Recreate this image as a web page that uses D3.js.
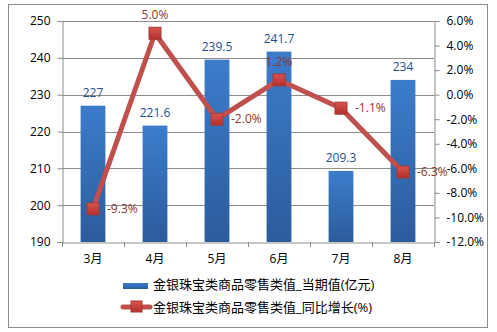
<!DOCTYPE html>
<html><head><meta charset="utf-8">
<script src="https://cdn.jsdelivr.net/npm/d3@7"></script>
<style>body{margin:0;background:#fff}svg{display:block}text{font-family:"Open Sans","Noto Sans CJK SC",sans-serif}</style>
</head><body>
<svg id="c" width="497" height="332"></svg>
<script>
const categories = ["3月","4月","5月","6月","7月","8月"];
const barValues = [227, 221.6, 239.5, 241.7, 209.3, 234];
const growthValues = [-9.3, 5.0, -2.0, 1.2, -1.1, -6.3];
const leftTicks = [190,200,210,220,230,240,250];
const rightTicks = [-12,-10,-8,-6,-4,-2,0,2,4,6];
const barSeriesName = "金银珠宝类商品零售类值_当期值(亿元)";
const lineSeriesName = "金银珠宝类商品零售类值_同比增长(%)";
const growthLabelPos = ["right","top","right","top","right","right"];

const pct = d => d.toFixed(1) + "%";
const svg = d3.select("#c");
const L = 62, R = 434, T = 21, B = 242;
svg.append("rect").attr("x",8.5).attr("y",4.5).attr("width",479).attr("height",323)
  .attr("fill","#fff").attr("stroke","#8c8c8c");

const defs = svg.append("defs");
const g = defs.append("linearGradient").attr("id","bg").attr("x1",0).attr("x2",0).attr("y1",0).attr("y2",1);
g.append("stop").attr("offset","0%").attr("stop-color","#3c7ccb");
g.append("stop").attr("offset","100%").attr("stop-color","#2c5c9c");
const gl = defs.append("linearGradient").attr("id","mk").attr("x1",0).attr("x2",0).attr("y1",0).attr("y2",1);
gl.append("stop").attr("offset","0%").attr("stop-color","#d9544f");
gl.append("stop").attr("offset","100%").attr("stop-color","#b2302c");

const x = d3.scaleBand().domain(categories).range([L,R]).paddingInner(0.6).paddingOuter(0.3);
const y = d3.scaleLinear().domain([190,250]).range([B,T]);
const y2 = d3.scaleLinear().domain([-12,6]).range([B,T]);

// gridlines
svg.append("g").selectAll("line").data(leftTicks.slice(1)).join("line")
  .attr("x1",L).attr("x2",R).attr("y1",d=>Math.round(y(d))+0.5).attr("y2",d=>Math.round(y(d))+0.5)
  .attr("stroke","#8c8c8c");

// bars
svg.append("g").selectAll("rect").data(barValues).join("rect")
  .attr("x",(d,i)=>x(categories[i])).attr("width",x.bandwidth())
  .attr("y",d=>y(d)).attr("height",d=>B-y(d)).attr("fill","url(#bg)");
svg.append("g").selectAll("text").data(barValues).join("text")
  .attr("x",(d,i)=>x(categories[i])+x.bandwidth()/2).attr("y",d=>y(d)-13)
  .attr("dy","0.35em").attr("text-anchor","middle").attr("font-size",12).attr("fill","#1f4e8c")
  .text(d=>d);

// axes
const la = svg.append("g").attr("transform",`translate(${L+0.5},0)`)
  .call(d3.axisLeft(y).tickValues(leftTicks).tickSize(5).tickPadding(7).tickFormat(d=>String(d)));
const ra = svg.append("g").attr("transform",`translate(${R+0.5},0)`)
  .call(d3.axisRight(y2).tickValues(rightTicks).tickSize(5).tickPadding(7).tickFormat(pct));
const xa = svg.append("g").attr("transform",`translate(0,${B+0.5})`)
  .call(d3.axisBottom(x).tickSize(0).tickPadding(12));
[la,ra,xa].forEach(a=>{a.select(".domain").attr("stroke","#8c8c8c");a.selectAll("line").attr("stroke","#8c8c8c");
  a.selectAll("text").attr("font-size",12).attr("fill","#000");});
// x tick marks at band boundaries
const xb = d3.range(categories.length+1).map(i=>L+i*(R-L)/categories.length);
svg.append("g").selectAll("line").data(xb).join("line")
  .attr("x1",d=>Math.round(d)+0.5).attr("x2",d=>Math.round(d)+0.5).attr("y1",B).attr("y2",B+5).attr("stroke","#8c8c8c");

// line
const cx = (i)=>x(categories[i])+x.bandwidth()/2;
svg.append("path").datum(growthValues)
  .attr("d",d3.line().x((d,i)=>cx(i)).y(d=>y2(d)))
  .attr("fill","none").attr("stroke","#c0504d").attr("stroke-width",5).attr("stroke-linejoin","round");
svg.append("g").selectAll("rect").data(growthValues).join("rect")
  .attr("x",(d,i)=>cx(i)-6).attr("y",d=>y2(d)-6).attr("width",12).attr("height",12)
  .attr("fill","url(#mk)").attr("stroke","#a33a36").attr("stroke-width",1);
svg.append("g").selectAll("text").data(growthValues).join("text")
  .attr("x",(d,i)=>growthLabelPos[i]==="top"?cx(i):cx(i)+14)
  .attr("y",(d,i)=>growthLabelPos[i]==="top"?y2(d)-18:y2(d))
  .attr("dy","0.35em").attr("text-anchor",(d,i)=>growthLabelPos[i]==="top"?"middle":"start")
  .attr("font-size",12).attr("fill","#8b3532")
  .text(pct);

// legend
const lg = svg.append("g");
lg.append("rect").attr("x",123).attr("y",283).attr("width",25).attr("height",6).attr("fill","url(#bg)");
lg.append("text").attr("x",153).attr("y",284).attr("dy","0.35em").attr("font-size",13).attr("fill","#000").text(barSeriesName);
lg.append("line").attr("x1",123).attr("x2",150).attr("y1",307).attr("y2",307).attr("stroke","#c0504d").attr("stroke-width",5).attr("stroke-linecap","round");
lg.append("rect").attr("x",131).attr("y",301).attr("width",11).attr("height",11).attr("fill","url(#mk)").attr("stroke","#a33a36");
lg.append("text").attr("x",153).attr("y",307).attr("dy","0.35em").attr("font-size",13).attr("fill","#000").text(lineSeriesName);
</script>
</body></html>
